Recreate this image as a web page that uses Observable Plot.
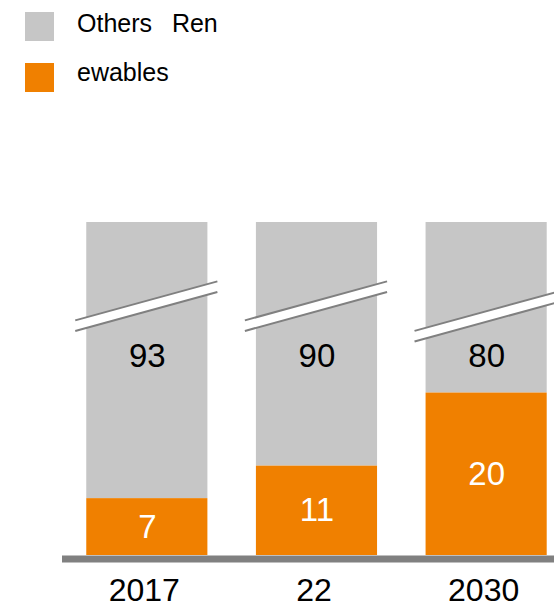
<!DOCTYPE html>
<html><head><meta charset="utf-8">
<script src="https://cdn.jsdelivr.net/npm/d3@7"></script>
<script src="https://cdn.jsdelivr.net/npm/@observablehq/plot@0.6"></script>
<style>
body{margin:0;background:#fff;font-family:"Liberation Sans",Arial,sans-serif;}
#wrap{position:relative;width:554px;height:611px;overflow:hidden}
#legend{position:relative;height:100px}
.sw{position:absolute;left:25px;width:29px;height:29px}
.lt{position:absolute;left:77px;font-size:25px;white-space:pre;line-height:1;color:#000;word-spacing:3px}
</style></head><body>
<div id="wrap"><div id="legend"></div><div id="chart"></div></div>
<script>
const years = ["2017", "22", "2030"];
const renewables = [7, 11, 20];
const others = [93, 90, 80];
const breakAt = [30.7, 30.7, 29.4];
const legendLabels = ["Others  Ren", "ewables"];
const colors = {others: "#C6C6C6", ren: "#F08000"};

const rows = years.map((y, i) => ({i, year: y, ren: renewables[i], oth: others[i], brk: breakAt[i]}));

// legend
const legend = document.getElementById("legend");
[[colors.others, legendLabels[0], 12, 10.8], [colors.ren, legendLabels[1], 63, 60.2]].forEach(([c, t, sy, ty]) => {
  const s = document.createElement("div"); s.className = "sw"; s.style.background = c; s.style.top = sy + "px"; legend.appendChild(s);
  const l = document.createElement("div"); l.className = "lt"; l.textContent = t; l.style.top = ty + "px"; legend.appendChild(l);
});

const halfW = 0.357;
const chart = Plot.plot({
  width: 554,
  height: 511,
  marginLeft: 62,
  marginRight: 0,
  marginTop: 122,
  marginBottom: 56,
  style: {fontFamily: "'Liberation Sans', Arial, sans-serif", background: "#fff"},
  x: {type: "linear", domain: [-0.5, 2.4], axis: null},
  y: {domain: [0, 41], clamp: true, axis: null},
  marks: [
    Plot.rectY(rows, {x1: d => d.i - halfW, x2: d => d.i + halfW, y1: d => d.ren, y2: d => d.ren + d.oth, fill: colors.others}),
    Plot.rectY(rows, {x1: d => d.i - halfW, x2: d => d.i + halfW, y1: 0, y2: d => d.ren, fill: colors.ren}),
    Plot.link(rows, {x1: d => d.i - 0.425, x2: d => d.i + 0.413, y1: d => d.brk - 2.4, y2: d => d.brk + 2.4, stroke: "#fff", strokeWidth: 10}),
    Plot.link(rows, {x1: d => d.i - 0.425, x2: d => d.i + 0.413, y1: d => d.brk - 2.4, y2: d => d.brk + 2.4, stroke: "#808080", strokeWidth: 2, dy: -5.3}),
    Plot.link(rows, {x1: d => d.i - 0.425, x2: d => d.i + 0.413, y1: d => d.brk - 2.4, y2: d => d.brk + 2.4, stroke: "#808080", strokeWidth: 2, dy: 5.3}),
    Plot.text(rows, {x: "i", y: d => d.ren / 2, text: d => String(d.ren), fill: "#fff", fontSize: 33}),
    Plot.text(rows, {x: "i", y: 24.5, text: d => String(d.oth), fill: "#000", fontSize: 33}),
    Plot.ruleY([0], {stroke: "#808080", strokeWidth: 7, dy: 3.5}),
    Plot.text(rows, {x: "i", y: 0, text: "year", fill: "#000", fontSize: 32, dy: 35.5, dx: -3})
  ]
});
document.getElementById("chart").appendChild(chart);
</script>
</body></html>
